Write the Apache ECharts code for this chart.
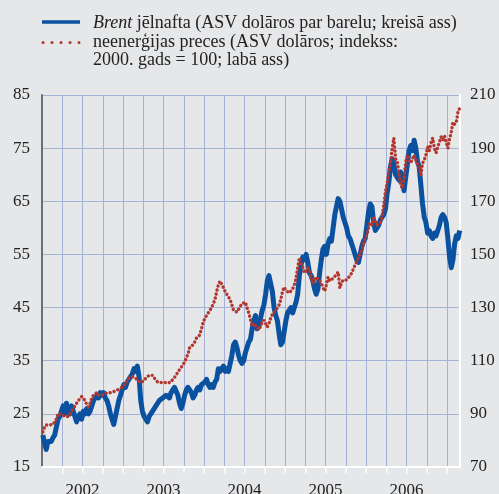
<!DOCTYPE html>
<html>
<head>
<meta charset="utf-8">
<script src="https://cdn.jsdelivr.net/npm/echarts@6/dist/echarts.min.js"></script>
<style>
  html, body { margin: 0; padding: 0; background: #e6e7e9; }
  #chart { width: 499px; height: 494px; }
</style>
</head>
<body>
<div id="chart"></div>
<script>
// roughly weekly readings, 4 per month
const brent2002 = [21.0, 19.5, 18.3, 19.8, 20.0, 19.8, 20.5, 21.0, 22.5, 24.0, 24.5, 25.5,
  26.5, 25.0, 27.0, 25.5, 25.0, 26.5, 25.5, 24.5, 23.5, 24.5, 25.0, 24.0,
  25.5, 25.0, 26.0, 25.0, 25.5, 26.5, 27.5, 27.5, 28.5, 28.0, 29.0, 28.5,
  29.0, 28.0, 27.5, 26.5, 25.0, 24.0, 23.0, 24.5, 26.0, 27.5, 28.5, 29.5];
const brent2003 = [30.5, 30.0, 31.0, 31.5, 32.0, 32.5, 33.5, 33.0, 34.0, 32.0, 27.5, 25.5,
  24.5, 24.0, 23.5, 24.5, 25.0, 25.5, 26.0, 26.5, 27.0, 27.5, 27.5, 28.0,
  28.0, 28.5, 28.5, 28.0, 29.0, 29.5, 30.0, 30.0, 28.5, 27.0, 26.0, 27.0,
  28.5, 29.5, 30.0, 29.5, 29.0, 28.0, 28.5, 29.5, 30.0, 29.5, 30.5, 30.5];
const brent2004 = [31.0, 31.5, 30.5, 30.0, 30.5, 30.0, 31.0, 31.5, 33.5, 33.0, 33.5, 34.0,
  33.0, 33.5, 33.0, 34.5, 36.0, 38.0, 38.5, 37.5, 36.0, 35.0, 34.5, 35.0,
  36.5, 37.5, 38.5, 39.0, 41.0, 42.5, 43.5, 41.0, 41.5, 43.0, 44.5, 45.5,
  47.5, 50.0, 51.0, 49.5, 48.0, 45.0, 43.5, 42.5, 40.0, 38.0, 38.5, 40.5];
const brent2005 = [42.5, 44.0, 44.5, 45.0, 44.0, 45.0, 46.0, 47.5, 51.0, 53.0, 54.5, 54.0,
  55.0, 53.5, 51.5, 51.0, 50.0, 48.5, 47.5, 48.5, 51.5, 54.0, 56.0, 56.5,
  55.0, 57.0, 58.0, 57.5, 60.0, 62.5, 64.0, 65.5, 65.0, 63.5, 62.0, 61.0,
  60.0, 58.5, 58.0, 57.0, 56.0, 55.0, 54.0, 53.5, 55.0, 56.5, 57.5, 58.0];
const brent2006 = [60.5, 63.0, 64.5, 64.0, 61.0, 59.5, 60.0, 60.5, 61.5, 62.0, 62.5, 63.5,
  66.5, 68.5, 71.5, 73.0, 72.0, 70.0, 69.5, 69.0, 70.5, 69.0, 67.0, 69.5,
  72.0, 74.5, 75.5, 74.5, 76.5, 75.0, 72.5, 71.5, 68.0, 64.5, 62.0, 61.0,
  59.0, 59.5, 58.5, 58.0, 59.0, 58.5, 59.5, 60.5, 62.0, 62.5, 62.0, 61.0];
const brent2007 = [58.0, 54.5, 52.5, 54.0, 57.0, 58.5, 58.0, 59.5];

const index2002 = [83.2, 85.0, 85.8, 85.8, 85.8, 85.8, 86.0, 86.5, 88.0, 90.0, 90.5, 90.0,
  89.5, 89.0, 89.5, 89.0, 90.0, 90.5, 92.0, 93.0, 94.0, 95.0, 95.5, 96.5,
  97.0, 95.0, 93.5, 92.6, 94.0, 96.0, 97.0, 97.5, 98.0, 97.0, 96.5, 97.0,
  97.5, 97.8, 97.5, 97.8, 98.0, 98.2, 98.5, 98.6, 99.0, 99.3, 99.7, 100.0];
const index2003 = [100.5, 101.5, 102.5, 103.5, 104.2, 104.0, 103.8, 103.5, 102.5, 102.0, 101.8, 101.6,
  102.5, 103.5, 104.0, 104.5, 105.0, 104.5, 103.5, 103.0, 102.0, 101.6, 101.8, 102.0,
  101.8, 101.6, 101.6, 101.6, 102.0, 103.0, 103.5, 104.5, 105.8, 106.5, 107.5, 108.4,
  109.5, 111.0, 112.5, 115.0, 115.5, 116.0, 117.0, 118.5, 119.0, 119.7, 122.0, 124.6];
const index2004 = [125.0, 127.0, 128.0, 129.0, 130.0, 131.5, 133.0, 136.0, 138.5, 140.0, 140.4, 137.5,
  136.0, 135.0, 134.0, 133.0, 131.0, 129.0, 128.3, 128.3, 129.0, 130.5, 131.5, 131.0,
  132.0, 130.0, 128.0, 125.5, 123.0, 124.0, 123.5, 122.5, 121.6, 123.0, 124.5, 125.3,
  124.0, 122.7, 124.0, 126.0, 127.5, 128.0, 129.0, 129.5, 131.0, 133.0, 136.0, 137.7];
const index2005 = [136.5, 136.0, 135.5, 136.0, 137.0, 138.5, 141.0, 144.9, 148.7, 146.5, 145.3, 143.0,
  142.3, 144.9, 144.1, 141.5, 139.2, 140.5, 141.5, 141.5, 140.0, 139.2, 137.5, 136.2,
  138.5, 141.5, 140.0, 140.5, 141.0, 141.5, 142.5, 143.4, 137.4, 139.5, 140.4, 140.0,
  140.4, 141.0, 142.0, 143.0, 144.5, 146.0, 147.5, 148.7, 150.0, 151.7, 154.0, 156.2];
const index2006 = [157.3, 160.0, 162.0, 161.0, 163.7, 162.5, 161.0, 160.3, 162.0, 164.0, 168.6, 173.5,
  176.9, 181.0, 184.4, 190.0, 193.8, 186.0, 184.8, 180.6, 176.0, 175.0, 178.8, 184.8,
  187.4, 185.5, 184.4, 186.0, 187.4, 185.5, 184.0, 182.9, 179.9, 184.4, 185.5, 187.4,
  190.4, 189.0, 192.0, 193.8, 190.0, 188.2, 190.5, 192.3, 194.2, 193.0, 194.5, 193.8];
const index2007 = [190.0, 193.5, 196.0, 199.8, 199.0, 199.8, 203.6, 205.0];

const years = [2002, 2003, 2004, 2005, 2006, 2007];
const leftTicks = { min: 15, max: 85, step: 10 };
const rightTicks = { min: 70, max: 210, step: 20 };

const seriesNames = [
  'Brent jēlnafta (ASV dolāros par barelu; kreisā ass)',
  'neenerģijas preces (ASV dolāros; indekss: 2000. gads = 100; labā ass)'
];

// pair each weekly reading with its position in the year
function toPoints(yearArrays) {
  const pts = [];
  yearArrays.forEach((arr, yi) => {
    arr.forEach((v, i) => {
      const month = Math.floor(i / 4);
      const week = i % 4;
      pts.push([years[yi] + (month + (week + 0.5) / 4) / 12, v]);
    });
  });
  return pts;
}

const brentData = toPoints([brent2002, brent2003, brent2004, brent2005, brent2006, brent2007]);
const indexData = toPoints([index2002, index2003, index2004, index2005, index2006, index2007]);

const font = 'Liberation Serif';
const gridColor = '#a6b1da';
const blue = '#0a51a0';
const red = '#b3372f';

const chart = echarts.init(document.getElementById('chart'));

chart.setOption({
  animation: false,
  backgroundColor: '#e6e7e9',
  grid: { left: 42, right: 39, top: 95, bottom: 27, containLabel: false, outerBoundsMode: 'none' },
  xAxis: {
    type: 'value',
    min: 2002,
    max: 2007.16,
    interval: 0.25,
    axisLine: { lineStyle: { color: '#ffffff', width: 2 } },
    axisTick: { lineStyle: { color: '#ffffff', width: 1.5 }, length: 6 },
    axisLabel: {
      color: '#222',
      fontFamily: font,
      fontSize: 17,
      margin: 15,
      showMinLabel: false,
      showMaxLabel: false,
      formatter: (v) => Math.abs(v - Math.floor(v) - 0.5) < 1e-6 ? String(Math.floor(v)) : ''
    },
    splitLine: { show: true, lineStyle: { color: gridColor, width: 1 } }
  },
  yAxis: [
    {
      type: 'value',
      min: leftTicks.min,
      max: leftTicks.max,
      interval: leftTicks.step,
      axisLine: { show: true, lineStyle: { color: '#6e6e6e', width: 2 } },
      axisTick: { show: false },
      axisLabel: { color: '#222', fontFamily: font, fontSize: 17, margin: 12 },
      splitLine: { show: true, lineStyle: { color: gridColor, width: 1 } }
    },
    {
      type: 'value',
      min: rightTicks.min,
      max: rightTicks.max,
      interval: rightTicks.step,
      axisLine: { show: true, lineStyle: { color: '#ffffff', width: 2 } },
      axisTick: { show: false },
      axisLabel: { color: '#222', fontFamily: font, fontSize: 17, margin: 10 },
      splitLine: { show: false }
    }
  ],
  series: [
    {
      name: seriesNames[0],
      type: 'line',
      yAxisIndex: 0,
      data: brentData,
      showSymbol: false,
      lineStyle: { color: blue, width: 5, join: 'round' }
    },
    {
      name: seriesNames[1],
      type: 'line',
      yAxisIndex: 1,
      data: indexData,
      showSymbol: false,
      lineStyle: { color: red, width: 3.4, type: [0.1, 4], cap: 'round' }
    }
  ],
  graphic: [
    {
      type: 'line',
      shape: { x1: 42, y1: 22, x2: 80, y2: 22 },
      style: { stroke: blue, lineWidth: 3.5 }
    },
    {
      type: 'line',
      shape: { x1: 43, y1: 42.5, x2: 79, y2: 42.5 },
      style: { stroke: red, lineWidth: 3, lineDash: [0.1, 8.9], lineCap: 'round' }
    },
    {
      type: 'text',
      left: 93,
      top: 14,
      style: {
        text: '{i|Brent} jēlnafta (ASV dolāros par barelu; kreisā ass)',
        font: '18px "Liberation Serif"',
        fill: '#222',
        rich: { i: { fontStyle: 'italic', fontFamily: font, fontSize: 18, fill: '#222' } }
      }
    },
    {
      type: 'text',
      left: 93,
      top: 32.7,
      style: {
        text: 'neenerģijas preces (ASV dolāros; indekss:\n2000. gads = 100; labā ass)',
        font: '18px "Liberation Serif"',
        fill: '#222',
        lineHeight: 18.5
      }
    }
  ]
});
</script>
</body>
</html>
